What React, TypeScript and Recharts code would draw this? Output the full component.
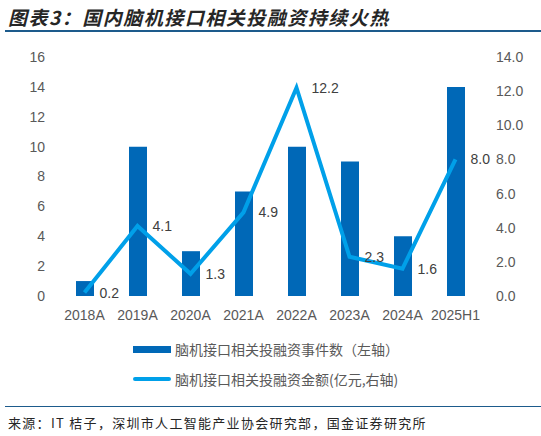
import { ComposedChart, Bar, Line, XAxis, YAxis, Legend, LabelList } from "recharts";

const years = ["2018A", "2019A", "2020A", "2021A", "2022A", "2023A", "2024A", "2025H1"];
const dealCounts = [1, 10, 3, 7, 10, 9, 4, 14];
const dealAmounts = [0.2, 4.1, 1.3, 4.9, 12.2, 2.3, 1.6, 8.0];
const leftTicks = [0, 2, 4, 6, 8, 10, 12, 14, 16];
const rightTicks = [0, 2, 4, 6, 8, 10, 12, 14];
const boundaryTicks = [0, 1, 2, 3, 4, 5, 6, 7, 8];

const barName = "脑机接口相关投融资事件数（左轴）";
const lineName = "脑机接口相关投融资金额(亿元,右轴)";

const rows = years.map((year, i) => ({
  year,
  count: dealCounts[i],
  amount: dealAmounts[i],
}));

const BAR = "#0068b7";
const LINE = "#00a0e9";
const TEXT = "#595959";
const FONT = "Arial, 'Liberation Sans', 'Noto Sans CJK SC', sans-serif";

function LegendBox() {
  const item = { display: "flex", alignItems: "center", height: 30 } as const;
  return (
    <div style={{ paddingLeft: 133, fontFamily: "'Noto Sans CJK SC', sans-serif", fontSize: 14, color: TEXT }}>
      <div style={item}>
        <span style={{ display: "inline-block", width: 38, height: 7, background: BAR, marginRight: 4 }} />
        {barName}
      </div>
      <div style={item}>
        <span style={{ display: "inline-block", width: 38, height: 4, borderRadius: 2, background: LINE, marginRight: 4 }} />
        {lineName}
      </div>
    </div>
  );
}

export default function App() {
  return (
    <div style={{ position: "absolute", left: 0, top: 0, width: 541, height: 436, background: "#fff", overflow: "hidden" }}>
      <div
        style={{
          position: "absolute",
          left: 8,
          top: 3,
          fontFamily: "'Noto Sans CJK SC', sans-serif",
          fontSize: 19,
          fontWeight: 700,
          fontStyle: "italic",
          letterSpacing: 1.5,
          color: "#262626",
        }}
      >
        图表3：国内脑机接口相关投融资持续火热
      </div>
      <div style={{ position: "absolute", left: 5, top: 30, width: 536, height: 2, background: "#1d5b8c" }} />

      <div style={{ position: "absolute", left: 0, top: 0 }}>
        <ComposedChart width={541} height={400} data={rows} margin={{ top: 57, right: 0, bottom: 14, left: 0 }}>
          <XAxis
            xAxisId="grid"
            type="number"
            dataKey={() => 0}
            domain={[0, 8]}
            ticks={boundaryTicks}
            tick={false}
            height={0}
            axisLine={{ stroke: "#d9d9d9" }}
            tickLine={{ stroke: "#d9d9d9" }}
            tickSize={5}
          />
          <XAxis
            dataKey="year"
            height={30}
            axisLine={false}
            tickLine={false}
            tickMargin={8}
            tick={{ fill: TEXT, fontSize: 14, fontFamily: FONT }}
          />
          <YAxis
            yAxisId="left"
            width={58}
            domain={[0, 16]}
            ticks={leftTicks}
            axisLine={false}
            tickLine={false}
            tickSize={0}
            tickMargin={13}
            tick={{ fill: TEXT, fontSize: 14, fontFamily: FONT }}
          />
          <YAxis
            yAxisId="right"
            orientation="right"
            width={59}
            domain={[0, 14]}
            ticks={rightTicks}
            tickFormatter={(v: number) => v.toFixed(1)}
            axisLine={false}
            tickLine={false}
            tickSize={0}
            tickMargin={14}
            tick={{ fill: TEXT, fontSize: 14, fontFamily: FONT }}
          />
          <Bar yAxisId="left" dataKey="count" name={barName} fill={BAR} barSize={18} isAnimationActive={false} />
          <Line
            yAxisId="right"
            dataKey="amount"
            name={lineName}
            stroke={LINE}
            strokeWidth={4}
            dot={false}
            isAnimationActive={false}
          >
            <LabelList
              dataKey="amount"
              position="right"
              offset={15}
              formatter={(v: number) => v.toFixed(1)}
              style={{ fill: "#404040", fontSize: 14, fontFamily: FONT }}
            />
          </Line>
          <Legend
            verticalAlign="bottom"
            content={() => <LegendBox />}
            wrapperStyle={{ top: 334, left: 0, width: 541 }}
          />
        </ComposedChart>
      </div>

      <div style={{ position: "absolute", left: 5, top: 406, width: 536, height: 1, background: "#1d5b8c" }} />
      <div
        style={{
          position: "absolute",
          left: 8,
          top: 413,
          fontFamily: "'Noto Sans CJK SC', sans-serif",
          fontSize: 13,
          letterSpacing: 1.3,
          color: "#262626",
          whiteSpace: "nowrap",
        }}
      >
        来源：IT 桔子，深圳市人工智能产业协会研究部，国金证券研究所
      </div>
    </div>
  );
}
